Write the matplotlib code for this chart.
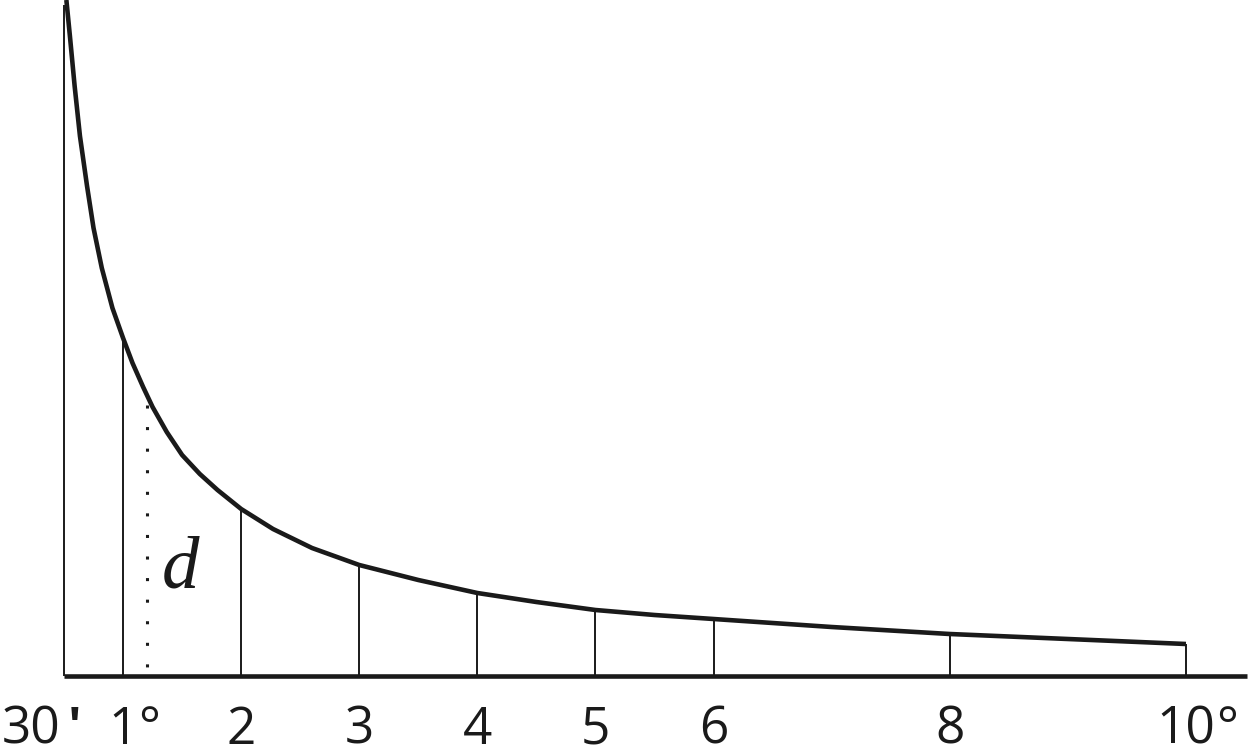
import matplotlib
matplotlib.use("Agg")
import matplotlib.pyplot as plt

# ---- data (x in degrees, heights in arbitrary units) ----
curve_x = [0.52, 0.55, 0.59, 0.635, 0.695, 0.75, 0.82, 0.91, 1.0, 1.08, 1.17,
           1.25, 1.37, 1.5, 1.65, 1.8, 2.0, 2.27, 2.6, 3.0, 3.5, 4.0, 4.5,
           5.0, 5.5, 6.0, 7.0, 8.0, 9.0, 10.0]
curve_h = [676, 640, 590, 540, 490, 448, 408, 368, 338, 313, 289,
           269, 244, 221, 202, 186, 167, 147, 128, 111, 96, 83, 74,
           66, 61, 57, 49, 42, 37, 32]

tick_pos = [0.5, 1, 2, 3, 4, 5, 6, 8, 10]
tick_num = ["30", "1", "2", "3", "4", "5", "6", "8", "10"]
tick_suffix = ["'", "°", "", "", "", "", "", "", "°"]
stem_h = [671, 338, 167, 111, 83, 66, 57, 42, 32]

dotted_x = 1.2
dotted_range = [271, 8]
label_d = "d"
label_d_pos = (1.49, 88)

fig = plt.figure(figsize=(12.48, 7.56), dpi=100)
ax = fig.add_axes([0, 0, 1, 1])
px = 118.1  # pixels per degree
ax.set_xlim(0.5 - 64 / px, 0.5 + (1248 - 64) / px)
ax.set_ylim(-80, 676)
ax.axis("off")

col = "#1a1a1a"
# baseline
ax.plot([0.5, 0.5 + (1247 - 64) / px], [0, 0], color=col, lw=3.3,
        solid_capstyle="butt")
# stems
for x, h in zip(tick_pos, stem_h):
    ax.plot([x, x], [0, h], color=col, lw=1.4, solid_capstyle="butt")
# curve
ax.plot(curve_x, curve_h, color=col, lw=3.3, solid_joinstyle="round",
        solid_capstyle="butt")
# dotted line
ax.plot([dotted_x, dotted_x], dotted_range, color=col, lw=2.2,
        linestyle=(0, (1, 6.06)), dash_capstyle="butt")
# d label
ax.text(label_d_pos[0], label_d_pos[1], label_d, family="Liberation Serif",
        style="italic", fontsize=54, color=col, ha="center", va="baseline")

# tick labels
lab_y = -79.5
fs = 37
for x, n, s in zip(tick_pos, tick_num, tick_suffix):
    if n == "30":
        ax.text(x - 33 / px, lab_y, n, family="Open Sans", fontsize=fs,
                color=col, ha="center", va="bottom")
        ax.text(x + 10 / px, lab_y, s, family="Open Sans", fontsize=fs,
                color=col, ha="center", va="bottom", fontweight="bold")
    else:
        ax.text(x, lab_y, n, family="Open Sans", fontsize=fs, color=col,
                ha="center", va="bottom")
        if s:
            half = 0.29 * fs * len(n)
            ax.annotate(s, xy=(x, lab_y), xytext=(half, 0),
                        textcoords="offset points", family="Open Sans",
                        fontsize=fs, color=col, ha="left", va="bottom")

fig.savefig("out.png", dpi=100)
